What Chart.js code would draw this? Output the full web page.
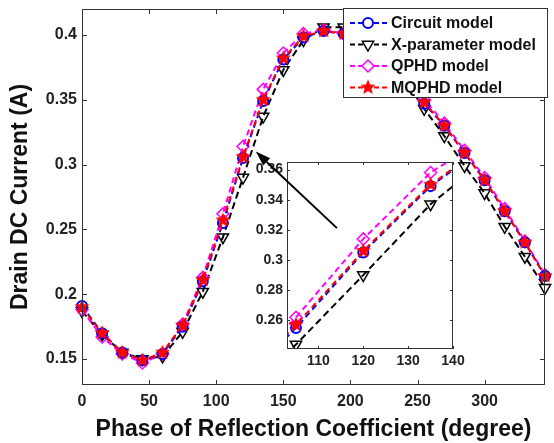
<!DOCTYPE html>
<html>
<head>
<meta charset="utf-8">
<script src="https://cdn.jsdelivr.net/npm/chart.js@4.4.1/dist/chart.umd.min.js"></script>
<style>
  html, body { margin: 0; padding: 0; background: #fff; }
  #wrap { position: relative; width: 554px; height: 443px; overflow: hidden; }
  #main { position: absolute; left: 0; top: 0; }
  #inset { position: absolute; left: 245px; top: 145px; }
</style>
</head>
<body>
<div id="wrap">
  <canvas id="main" width="554" height="443"></canvas>
  <canvas id="inset" width="235" height="230"></canvas>
</div>
<script>
// values (phase in degrees, current in A)
const phase   = [0, 15, 30, 45, 60, 75, 90, 105, 120, 135, 150, 165, 180, 195, 210, 225, 240, 255, 270, 285, 300, 315, 330, 345];
const circuit = [0.191, 0.170, 0.155, 0.149, 0.154, 0.175, 0.210, 0.255, 0.305, 0.349, 0.381, 0.398, 0.403, 0.401, 0.394, 0.382, 0.366, 0.347, 0.330, 0.309, 0.288, 0.264, 0.240, 0.214];
const xParam  = [0.187, 0.169, 0.155, 0.150, 0.152, 0.171, 0.202, 0.244, 0.290, 0.337, 0.373, 0.396, 0.406, 0.406, 0.398, 0.385, 0.366, 0.343, 0.322, 0.299, 0.278, 0.252, 0.229, 0.205];
const qphd    = [0.188, 0.167, 0.154, 0.147, 0.154, 0.177, 0.213, 0.262, 0.314, 0.358, 0.386, 0.401, 0.404, 0.401, 0.395, 0.383, 0.367, 0.350, 0.332, 0.311, 0.290, 0.266, 0.241, 0.215];
const mqphd   = [0.190, 0.170, 0.155, 0.149, 0.155, 0.176, 0.211, 0.257, 0.306, 0.350, 0.382, 0.399, 0.403, 0.401, 0.394, 0.382, 0.366, 0.348, 0.330, 0.309, 0.288, 0.264, 0.240, 0.214];

const seriesNames = ['Circuit model', 'X-parameter model', 'QPHD model', 'MQPHD model'];

const xTicks = [0, 50, 100, 150, 200, 250, 300];
const yTicks = [0.15, 0.2, 0.25, 0.3, 0.35, 0.4];
const insetXTicks = [110, 120, 130, 140];
const insetYTicks = [0.26, 0.28, 0.3, 0.32, 0.34, 0.36];

const FONT = "'Liberation Sans', Arial, Helvetica, sans-serif";

function makeStar(color, r) {
  const c = document.createElement('canvas');
  const s = Math.ceil(r * 2 + 2);
  c.width = s; c.height = s;
  const g = c.getContext('2d');
  g.fillStyle = color;
  g.beginPath();
  for (let i = 0; i < 10; i++) {
    const rad = i % 2 === 0 ? r : r * 0.45;
    const a = -Math.PI / 2 + i * Math.PI / 5;
    const px = s / 2 + rad * Math.cos(a), py = s / 2 + rad * Math.sin(a);
    if (i === 0) g.moveTo(px, py); else g.lineTo(px, py);
  }
  g.closePath();
  g.fill();
  return c;
}
const redStar = makeStar('#ff0000', 8);

function pts(ys) { return phase.map((p, i) => ({ x: p, y: ys[i] })); }

function makeDatasets(clip) {
  return [
    { label: seriesNames[0], data: pts(circuit), borderColor: '#0000ff', borderDash: [6, 4], borderWidth: 2,
      pointStyle: 'circle', pointRadius: 5, pointBorderWidth: 2, pointBackgroundColor: 'rgba(0,0,0,0)',
      pointBorderColor: '#0000ff', order: 1, clip },
    { label: seriesNames[1], data: pts(xParam), borderColor: '#000000', borderDash: [7, 4], borderWidth: 2,
      pointStyle: 'triangle', pointRotation: 180, pointRadius: 6.5, pointBorderWidth: 1.5,
      pointBackgroundColor: 'rgba(0,0,0,0)', pointBorderColor: '#000000', order: 3, clip },
    { label: seriesNames[2], data: pts(qphd), borderColor: '#ff00ff', borderDash: [6, 4], borderWidth: 2,
      pointStyle: 'rectRot', pointRadius: 6, pointBorderWidth: 1.5, pointBackgroundColor: 'rgba(0,0,0,0)',
      pointBorderColor: '#ff00ff', order: 2, clip },
    { label: seriesNames[3], data: pts(mqphd), borderColor: '#ff0000', borderDash: [6, 4], borderWidth: 2,
      pointStyle: redStar, pointRadius: 7, order: 0, clip }
  ];
}

// MATLAB-like box with inward ticks on all four sides
function framePlugin(tickLen) {
  return {
    id: 'frame',
    afterDatasetsDraw(chart) {
      const ctx = chart.ctx, a = chart.chartArea;
      const xs = chart.scales.x, ys = chart.scales.y;
      ctx.save();
      ctx.strokeStyle = '#333';
      ctx.lineWidth = 1;
      ctx.setLineDash([]);
      ctx.strokeRect(Math.round(a.left) + 0.5, Math.round(a.top) + 0.5,
                     Math.round(a.right - a.left) - 1, Math.round(a.bottom - a.top) - 1);
      ctx.beginPath();
      xs.ticks.forEach(t => {
        const px = Math.round(xs.getPixelForValue(t.value)) + 0.5;
        ctx.moveTo(px, a.bottom); ctx.lineTo(px, a.bottom - tickLen);
        ctx.moveTo(px, a.top); ctx.lineTo(px, a.top + tickLen);
      });
      ys.ticks.forEach(t => {
        const py = Math.round(ys.getPixelForValue(t.value)) + 0.5;
        ctx.moveTo(a.left, py); ctx.lineTo(a.left + tickLen, py);
        ctx.moveTo(a.right, py); ctx.lineTo(a.right - tickLen, py);
      });
      ctx.stroke();
      ctx.restore();
    }
  };
}

const legendPlugin = {
  id: 'boxLegend',
  afterDatasetsDraw(chart) {
    const ctx = chart.ctx, a = chart.chartArea;
    const w = 205, h = 90, x0 = a.right - 202, y0 = a.top - 1;
    ctx.save();
    ctx.fillStyle = '#fff';
    ctx.fillRect(x0, y0, w, h);
    ctx.strokeStyle = '#333';
    ctx.lineWidth = 1;
    ctx.strokeRect(x0 + 0.5, y0 + 0.5, w - 1, h - 1);
    chart.data.datasets.forEach((ds, i) => {
      const cy = y0 + 15 + i * 21.5;
      ctx.setLineDash([5, 3]);
      ctx.strokeStyle = ds.borderColor;
      ctx.lineWidth = 2;
      ctx.beginPath();
      ctx.moveTo(x0 + 7, cy); ctx.lineTo(x0 + 45, cy);
      ctx.stroke();
      ctx.setLineDash([]);
      ctx.fillStyle = '#fff';
      ctx.strokeStyle = ds.pointBorderColor || ds.borderColor;
      ctx.lineWidth = ds.pointBorderWidth || 1;
      Chart.helpers.drawPoint(ctx, {
        pointStyle: ds.pointStyle, rotation: ds.pointRotation || 0,
        radius: ds.pointRadius, borderWidth: ds.pointBorderWidth || 1
      }, x0 + 25, cy);
      ctx.fillStyle = '#111';
      ctx.font = 'bold 16px ' + FONT;
      ctx.textBaseline = 'middle';
      ctx.textAlign = 'left';
      ctx.fillText(ds.label, x0 + 48, cy + 1);
    });
    ctx.restore();
  }
};

function axisFont(size) { return { family: FONT, size, weight: 'bold' }; }

// fixed axis box sizes, no extra label overhang padding
function fixX(h) { return s => { s.height = h; s.paddingLeft = 0; s.paddingRight = 0; }; }
function fixY(w) { return s => { s.width = w; s.paddingTop = 0; s.paddingBottom = 0; }; }

const mainChart = new Chart(document.getElementById('main'), {
  type: 'line',
  data: { datasets: makeDatasets(8) },
  plugins: [framePlugin(5), legendPlugin],
  options: {
    responsive: false,
    animation: false,
    devicePixelRatio: 1,
    layout: { padding: { top: 8, right: 4, left: 0, bottom: 0 } },
    plugins: { legend: { display: false }, tooltip: { enabled: false } },
    scales: {
      x: {
        type: 'linear', min: 0, max: 345,
        afterBuildTicks: s => { s.ticks = xTicks.map(v => ({ value: v })); },
        afterFit: fixX(58),
        grid: { display: false, drawTicks: false },
        border: { display: false },
        ticks: { padding: 7, color: '#222', font: axisFont(16), maxRotation: 0, autoSkip: false, callback: v => String(v) },
        title: { display: true, text: 'Phase of Reflection Coefficient (degree)', color: '#111',
                 font: axisFont(23), padding: { top: 0, bottom: 0 } }
      },
      y: {
        type: 'linear', min: 0.13, max: 0.42,
        afterBuildTicks: s => { s.ticks = yTicks.map(v => ({ value: v })); },
        afterFit: fixY(82),
        grid: { display: false, drawTicks: false },
        border: { display: false },
        ticks: { padding: 5, color: '#222', font: axisFont(16), autoSkip: false, callback: v => String(v) },
        title: { display: true, text: 'Drain DC Current (A)', color: '#111',
                 font: axisFont(23), padding: { top: 7, bottom: 0 } }
      }
    }
  }
});

// arrow from the inset to the zoomed region, in main-chart data units
const arrowTail = { x: 190, y: 0.251 };
const arrowTip = { x: 129.5, y: 0.310 };
const INSET_LEFT = 245, INSET_TOP = 145;

const insetBg = {
  id: 'insetBg',
  beforeDatasetsDraw(chart) {
    const a = chart.chartArea, ctx = chart.ctx;
    ctx.save();
    ctx.fillStyle = '#fff';
    ctx.fillRect(a.left, a.top, a.right - a.left, a.bottom - a.top);
    ctx.restore();
  }
};

const arrowPlugin = {
  id: 'arrow',
  afterDraw(chart) {
    const ctx = chart.ctx;
    const mx = mainChart.scales.x, my = mainChart.scales.y;
    const x1 = mx.getPixelForValue(arrowTail.x) - INSET_LEFT, y1 = my.getPixelForValue(arrowTail.y) - INSET_TOP;
    const x2 = mx.getPixelForValue(arrowTip.x) - INSET_LEFT, y2 = my.getPixelForValue(arrowTip.y) - INSET_TOP;
    const ang = Math.atan2(y2 - y1, x2 - x1);
    const hl = 15, hw = 5;
    const bx = x2 - hl * Math.cos(ang), by = y2 - hl * Math.sin(ang);
    ctx.save();
    ctx.strokeStyle = '#000';
    ctx.fillStyle = '#000';
    ctx.lineWidth = 2;
    ctx.beginPath();
    ctx.moveTo(x1, y1); ctx.lineTo(bx, by);
    ctx.stroke();
    ctx.beginPath();
    ctx.moveTo(x2, y2);
    ctx.lineTo(bx + hw * Math.sin(ang), by - hw * Math.cos(ang));
    ctx.lineTo(bx - hw * Math.sin(ang), by + hw * Math.cos(ang));
    ctx.closePath();
    ctx.fill();
    ctx.restore();
  }
};

new Chart(document.getElementById('inset'), {
  type: 'line',
  data: { datasets: makeDatasets(0) },
  plugins: [insetBg, framePlugin(3), arrowPlugin],
  options: {
    responsive: false,
    animation: false,
    devicePixelRatio: 1,
    layout: { padding: { top: 17, right: 27, left: 0, bottom: 0 } },
    plugins: { legend: { display: false }, tooltip: { enabled: false } },
    scales: {
      x: {
        type: 'linear', min: 103, max: 140,
        afterBuildTicks: s => { s.ticks = insetXTicks.map(v => ({ value: v })); },
        afterFit: fixX(26),
        grid: { display: false, drawTicks: false },
        border: { display: false },
        ticks: { padding: 4, color: '#222', font: axisFont(14), maxRotation: 0, autoSkip: false, callback: v => String(v) }
      },
      y: {
        type: 'linear', min: 0.241, max: 0.365,
        afterBuildTicks: s => { s.ticks = insetYTicks.map(v => ({ value: v })); },
        afterFit: fixY(42),
        grid: { display: false, drawTicks: false },
        border: { display: false },
        ticks: { padding: 4, color: '#222', font: axisFont(14), autoSkip: false, callback: v => String(v) }
      }
    }
  }
});
</script>
</body>
</html>
